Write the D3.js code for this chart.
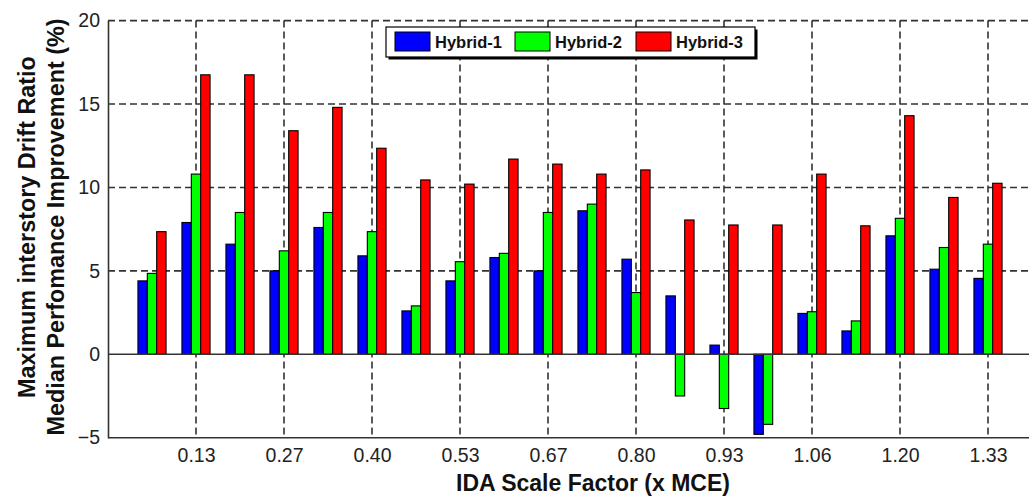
<!DOCTYPE html>
<html>
<head>
<meta charset="utf-8">
<script src="https://cdn.jsdelivr.net/npm/d3@7"></script>
<style>
  html, body { margin: 0; padding: 0; background: #fff; }
  svg { display: block; }
  text { font-family: "Liberation Sans", Arial, Helvetica, sans-serif; }
</style>
</head>
<body>
<svg id="chart" width="1029" height="497"></svg>
<script>
// IDA scale factors (x MCE), one group of bars per factor
const categories = ["0.07","0.13","0.20","0.27","0.33","0.40","0.47","0.53","0.60","0.67",
                    "0.73","0.80","0.87","0.93","1.00","1.06","1.13","1.20","1.27","1.33"];
const tickLabels = ["0.13","0.27","0.40","0.53","0.67","0.80","0.93","1.06","1.20","1.33"];
const seriesNames = ["Hybrid-1", "Hybrid-2", "Hybrid-3"];
const seriesColors = ["#0000ff", "#00ff00", "#ff0000"];

// Median improvement (%) of maximum interstory drift ratio
const hybrid1 = [4.4, 7.9, 6.6, 5.0, 7.6, 5.9, 2.6, 4.4, 5.8, 5.0,
                 8.6, 5.7, 3.5, 0.55, -4.8, 2.45, 1.4, 7.1, 5.1, 4.55];
const hybrid2 = [4.85, 10.8, 8.5, 6.2, 8.5, 7.35, 2.9, 5.55, 6.05, 8.5,
                 9.0, 3.7, -2.5, -3.25, -4.2, 2.55, 2.0, 8.15, 6.4, 6.6];
const hybrid3 = [7.35, 16.75, 16.75, 13.4, 14.8, 12.35, 10.45, 10.2, 11.7, 11.4,
                 10.8, 11.05, 8.05, 7.75, 7.75, 10.8, 7.7, 14.3, 9.4, 10.25];
const yTicks = [-5, 0, 5, 10, 15, 20];

const series = [hybrid1, hybrid2, hybrid3];

const svg = d3.select("#chart");
const plotLeft = 108, plotRight = 1076, plotTop = 20.6, plotBottom = 437.7;
const step = (plotRight - plotLeft) / 22;

const x = d3.scalePoint()
  .domain(categories)
  .range([plotLeft + step, plotLeft + 20 * step]);
const y = d3.scaleLinear().domain([-5, 20]).range([plotBottom, plotTop]);

const barW = step * 0.213;
const gridColor = "#333";

// dashed grid
const grid = svg.append("g");
grid.selectAll("line.h")
  .data(yTicks.filter(v => v > 0))
  .join("line")
  .attr("x1", plotLeft).attr("x2", 1029)
  .attr("y1", d => y(d)).attr("y2", d => y(d))
  .attr("stroke", gridColor).attr("stroke-width", 1.6)
  .attr("stroke-dasharray", "7,4");
grid.selectAll("line.v")
  .data(tickLabels)
  .join("line")
  .attr("x1", d => x(d)).attr("x2", d => x(d))
  .attr("y1", plotTop).attr("y2", plotBottom)
  .attr("stroke", gridColor).attr("stroke-width", 1.6)
  .attr("stroke-dasharray", "7,4");

// bars
const bars = svg.append("g");
series.forEach((vals, si) => {
  bars.append("g")
    .selectAll("rect")
    .data(vals.map((v, i) => ({ cat: categories[i], v })))
    .join("rect")
    .attr("x", d => x(d.cat) + (si - 1) * barW - barW / 2)
    .attr("width", barW)
    .attr("y", d => Math.min(y(d.v), y(0)))
    .attr("height", d => Math.abs(y(d.v) - y(0)))
    .attr("fill", seriesColors[si])
    .attr("stroke", "#000")
    .attr("stroke-width", 1.1);
});

// zero baseline
svg.append("line")
  .attr("x1", plotLeft).attr("x2", 1029)
  .attr("y1", y(0)).attr("y2", y(0))
  .attr("stroke", "#333").attr("stroke-width", 1.5);

// axes
const xAxis = d3.axisBottom(x).tickValues(tickLabels).tickSize(0).tickPadding(10);
const gx = svg.append("g").attr("transform", `translate(0,${plotBottom})`).call(xAxis);
gx.select(".domain").attr("d", `M${plotLeft},0H1029`).attr("stroke", "#333").attr("stroke-width", 1.6);
gx.selectAll("text").attr("font-size", 19.5).attr("fill", "#222").attr("dy", "0.72em");

const yAxis = d3.axisLeft(y).tickValues(yTicks).tickSize(0).tickPadding(8).tickFormat(d3.format("d"));
const gy = svg.append("g").attr("transform", `translate(${plotLeft},0)`).call(yAxis);
gy.select(".domain").attr("stroke", "#333").attr("stroke-width", 1.6);
gy.selectAll("text").attr("font-size", 19.5).attr("fill", "#222");

// axis titles
svg.append("text")
  .attr("x", 593).attr("y", 491)
  .attr("text-anchor", "middle")
  .attr("font-size", 23).attr("font-weight", "bold").attr("fill", "#111")
  .text("IDA Scale Factor (x MCE)");

const yTitle = svg.append("text")
  .attr("transform", "translate(35,227) rotate(-90)")
  .attr("text-anchor", "middle")
  .attr("font-size", 23.4).attr("font-weight", "bold").attr("fill", "#111");
yTitle.append("tspan").attr("x", 0).attr("y", 0).text("Maximum interstory Drift Ratio");
yTitle.append("tspan").attr("x", 0).attr("y", 29).text("Median Perfomance Improvement (%)");

// legend
const lg = svg.append("g").attr("transform", "translate(386,27)");
const lgW = 369, lgH = 30;
lg.append("rect").attr("x", 2.5).attr("y", 2.5).attr("width", lgW).attr("height", lgH).attr("fill", "#000");
lg.append("rect").attr("width", lgW).attr("height", lgH).attr("fill", "#fff").attr("stroke", "#000").attr("stroke-width", 1.2);
const itemX = [9, 129, 250];
seriesNames.forEach((name, i) => {
  const it = lg.append("g").attr("transform", `translate(${itemX[i]},5)`);
  it.append("rect").attr("width", 35).attr("height", 19)
    .attr("fill", seriesColors[i]).attr("stroke", "#000").attr("stroke-width", 1);
  it.append("text").attr("x", 40).attr("y", 16)
    .attr("font-size", 16.5).attr("font-weight", "bold").attr("fill", "#111")
    .text(name);
});
</script>
</body>
</html>
